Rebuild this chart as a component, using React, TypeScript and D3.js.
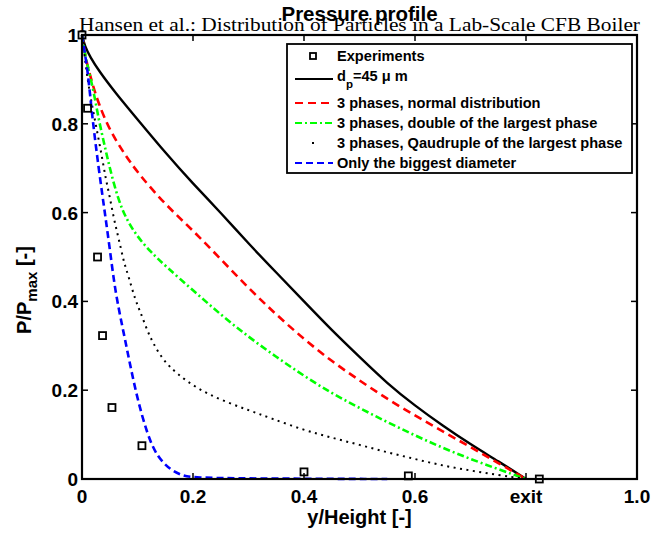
import React, { useEffect, useRef } from 'react';
import * as d3 from 'd3';

const WIDTH = 652;
const HEIGHT = 535;
const margin = { top: 35, right: 15, bottom: 56, left: 82 };

const xTicks = [0, 0.2, 0.4, 0.6, 0.8, 1.0];
const xTickLabels = ['0', '0.2', '0.4', '0.6', 'exit', '1.0'];
const yTicks = [0, 0.2, 0.4, 0.6, 0.8, 1];
const yTickLabels = ['0', '0.2', '0.4', '0.6', '0.8', '1'];

// experiments (squares)
const expX = [0, 0.01, 0.028, 0.037, 0.054, 0.108, 0.4, 0.588, 0.824];
const expY = [1, 0.835, 0.5, 0.323, 0.161, 0.075, 0.016, 0.007, 0];

// d_p = 45 um
const dp45: [number, number][] = [
  [0, 1], [0.005, 0.975], [0.015, 0.95], [0.03, 0.92], [0.06, 0.87], [0.1, 0.81],
  [0.15, 0.735], [0.2, 0.665], [0.25, 0.6], [0.3, 0.53], [0.35, 0.465], [0.4, 0.4],
  [0.45, 0.335], [0.5, 0.275], [0.55, 0.215], [0.6, 0.165], [0.65, 0.12], [0.7, 0.078],
  [0.75, 0.04], [0.8, 0]
];

// 3 phases, normal distribution
const normalDist: [number, number][] = [
  [0, 1], [0.005, 0.96], [0.01, 0.93], [0.02, 0.885], [0.03, 0.845], [0.05, 0.785],
  [0.075, 0.735], [0.1, 0.69], [0.15, 0.618], [0.2, 0.56], [0.25, 0.495], [0.3, 0.43],
  [0.35, 0.37], [0.4, 0.315], [0.45, 0.265], [0.5, 0.222], [0.55, 0.18], [0.6, 0.143],
  [0.65, 0.107], [0.7, 0.072], [0.75, 0.036], [0.8, 0]
];

// 3 phases, double of the largest phase
const doubleLargest: [number, number][] = [
  [0, 1], [0.005, 0.96], [0.01, 0.93], [0.02, 0.88], [0.03, 0.81], [0.04, 0.755],
  [0.05, 0.7], [0.065, 0.63], [0.08, 0.585], [0.1, 0.545], [0.125, 0.51], [0.15, 0.48],
  [0.2, 0.425], [0.25, 0.37], [0.3, 0.32], [0.35, 0.275], [0.4, 0.232], [0.45, 0.193],
  [0.5, 0.16], [0.55, 0.128], [0.6, 0.098], [0.65, 0.07], [0.7, 0.045], [0.75, 0.022], [0.8, 0]
];

// 3 phases, quadruple of the largest phase
const quadLargest: [number, number][] = [
  [0, 1], [0.005, 0.95], [0.01, 0.9], [0.016, 0.856], [0.023, 0.81], [0.03, 0.765],
  [0.037, 0.718], [0.043, 0.675], [0.05, 0.636], [0.056, 0.595], [0.063, 0.557],
  [0.07, 0.52], [0.076, 0.486], [0.084, 0.456], [0.096, 0.403], [0.105, 0.377],
  [0.117, 0.336], [0.128, 0.306], [0.146, 0.268], [0.17, 0.238], [0.207, 0.204],
  [0.25, 0.178], [0.3, 0.155], [0.34, 0.137], [0.4, 0.11], [0.45, 0.093], [0.5, 0.077],
  [0.55, 0.06], [0.6, 0.045], [0.65, 0.03], [0.7, 0.019], [0.75, 0.009], [0.8, 0]
];

// only the biggest diameter
const biggestOnly: [number, number][] = [
  [0, 1], [0.005, 0.96], [0.01, 0.92], [0.015, 0.86], [0.02, 0.8], [0.03, 0.7],
  [0.04, 0.61], [0.05, 0.52], [0.06, 0.42], [0.075, 0.33], [0.087, 0.255], [0.1, 0.18],
  [0.117, 0.103], [0.135, 0.05], [0.16, 0.02], [0.18, 0.008], [0.2, 0.003], [0.3, 0.001],
  [0.55, 0]
];

const series = [
  { data: dp45, color: '#000000', width: 2.4, dash: null as string | null },
  { data: normalDist, color: '#ff0000', width: 2.6, dash: '8 5' },
  { data: doubleLargest, color: '#00ff00', width: 2.6, dash: '7 3 2 3' },
  { data: quadLargest, color: '#000000', width: 2, dash: '2 4.5' },
  { data: biggestOnly, color: '#0000ff', width: 2.6, dash: '7 4' }
];

const legendLabels = [
  'Experiments',
  'dp',
  '3 phases, normal distribution',
  '3 phases, double of the largest phase',
  '3 phases, Qaudruple of the largest phase',
  'Only the biggest diameter'
];

const Chart: React.FC = () => {
  const svgRef = useRef<SVGSVGElement>(null);

  useEffect(() => {
    if (!svgRef.current) return;
    const svg = d3.select(svgRef.current);
    svg.selectAll('*').remove();

    const x0 = margin.left;
    const x1 = WIDTH - margin.right;
    const y0 = HEIGHT - margin.bottom;
    const y1 = margin.top;

    const x = d3.scaleLinear().domain([0, 1]).range([x0, x1]);
    const y = d3.scaleLinear().domain([0, 1]).range([y0, y1]);

    const sans = 'Arial, "Liberation Sans", Helvetica, sans-serif';

    svg.append('rect').attr('width', WIDTH).attr('height', HEIGHT).attr('fill', '#fff');

    // title
    svg.append('text')
      .attr('x', (x0 + x1) / 2)
      .attr('y', 21)
      .attr('text-anchor', 'middle')
      .attr('font-family', sans)
      .attr('font-weight', 'bold')
      .attr('font-size', 20.5)
      .text('Pressure profile');

    svg.append('text')
      .attr('x', (x0 + x1) / 2)
      .attr('y', 31)
      .attr('text-anchor', 'middle')
      .attr('font-family', '"Liberation Serif", "Times New Roman", serif')
      .attr('font-size', 19.5)
      .attr('textLength', 561)
      .attr('lengthAdjust', 'spacingAndGlyphs')
      .text('Hansen et al.: Distribution of Particles in a Lab-Scale CFB Boiler');

    // curves
    const line = d3.line<[number, number]>()
      .x(d => x(d[0]))
      .y(d => y(d[1]))
      .curve(d3.curveBasis);

    series.forEach(s => {
      svg.append('path')
        .attr('d', line(s.data) ?? '')
        .attr('fill', 'none')
        .attr('stroke', s.color)
        .attr('stroke-width', s.width)
        .attr('stroke-dasharray', s.dash ?? null);
    });

    // experiments
    expX.forEach((v, i) => {
      svg.append('rect')
        .attr('x', x(v) - 3.5)
        .attr('y', y(expY[i]) - 3.5)
        .attr('width', 7)
        .attr('height', 7)
        .attr('fill', 'none')
        .attr('stroke', '#000')
        .attr('stroke-width', 1.8);
    });

    // axes box + ticks
    const axisG = svg.append('g').attr('stroke', '#000').attr('stroke-width', 1.5);
    const tickLen = 6;
    xTicks.forEach(t => {
      axisG.append('line').attr('x1', x(t)).attr('x2', x(t)).attr('y1', y0).attr('y2', y0 - tickLen);
      axisG.append('line').attr('x1', x(t)).attr('x2', x(t)).attr('y1', y1).attr('y2', y1 + tickLen);
    });
    yTicks.forEach(t => {
      axisG.append('line').attr('x1', x0).attr('x2', x0 + tickLen).attr('y1', y(t)).attr('y2', y(t));
      axisG.append('line').attr('x1', x1).attr('x2', x1 - tickLen).attr('y1', y(t)).attr('y2', y(t));
    });
    svg.append('rect')
      .attr('x', x0).attr('y', y1)
      .attr('width', x1 - x0).attr('height', y0 - y1)
      .attr('fill', 'none')
      .attr('stroke', '#000')
      .attr('stroke-width', 2.2);

    // tick labels
    xTicks.forEach((t, i) => {
      svg.append('text')
        .attr('x', x(t))
        .attr('y', y0 + 24)
        .attr('text-anchor', 'middle')
        .attr('font-family', sans)
        .attr('font-weight', 'bold')
        .attr('font-size', 19)
        .text(xTickLabels[i]);
    });
    yTicks.forEach((t, i) => {
      svg.append('text')
        .attr('x', x0 - 4)
        .attr('y', y(t) + 7)
        .attr('text-anchor', 'end')
        .attr('font-family', sans)
        .attr('font-weight', 'bold')
        .attr('font-size', 19)
        .text(yTickLabels[i]);
    });

    // axis labels
    svg.append('text')
      .attr('x', (x0 + x1) / 2)
      .attr('y', y0 + 45)
      .attr('text-anchor', 'middle')
      .attr('font-family', sans)
      .attr('font-weight', 'bold')
      .attr('font-size', 20)
      .text('y/Height [-]');

    const yl = svg.append('text')
      .attr('transform', `translate(31, 290) rotate(-90)`)
      .attr('text-anchor', 'middle')
      .attr('font-family', sans)
      .attr('font-weight', 'bold')
      .attr('font-size', 20);
    yl.append('tspan').text('P/P');
    yl.append('tspan').attr('font-size', 15).attr('dy', 6).text('max');
    yl.append('tspan').attr('dy', -6).text(' [-]');

    // legend
    const lg = svg.append('g');
    lg.append('rect')
      .attr('x', 287).attr('y', 44)
      .attr('width', 345).attr('height', 129)
      .attr('fill', '#fff')
      .attr('stroke', '#000')
      .attr('stroke-width', 1.8);
    const rowY = [56, 79, 103, 123, 143, 163];
    const sampleX0 = 295;
    const sampleX1 = 333;
    const textX = 337;
    legendLabels.forEach((label, i) => {
      const cy = rowY[i];
      if (i === 0) {
        lg.append('rect')
          .attr('x', 313 - 3).attr('y', cy - 3)
          .attr('width', 6).attr('height', 6)
          .attr('fill', 'none').attr('stroke', '#000').attr('stroke-width', 1.8);
      } else if (i === 4) {
        lg.append('rect')
          .attr('x', 313 - 1).attr('y', cy - 1)
          .attr('width', 2).attr('height', 2)
          .attr('fill', '#000');
      } else {
        const s = series[i - 1];
        lg.append('line')
          .attr('x1', sampleX0).attr('x2', sampleX1)
          .attr('y1', cy).attr('y2', cy)
          .attr('stroke', s.color)
          .attr('stroke-width', s.width - 0.6)
          .attr('stroke-dasharray', s.dash ?? null);
      }
      const t = lg.append('text')
        .attr('x', textX)
        .attr('y', i === 1 ? cy + 2 : cy + 5)
        .attr('font-family', sans)
        .attr('font-weight', 'bold')
        .attr('font-size', 14.6);
      if (i === 1) {
        t.append('tspan').text('d');
        t.append('tspan').attr('font-size', 11.5).attr('dy', 7).text('p');
        t.append('tspan').attr('dy', -7).text('=45 \u03bc m');
      } else {
        t.text(label);
      }
    });
  }, []);

  return <svg ref={svgRef} width={WIDTH} height={HEIGHT} style={{ display: 'block' }} />;
};

export default function App() {
  return (
    <div style={{ position: 'absolute', left: 0, top: 0 }}>
      <Chart />
    </div>
  );
}
